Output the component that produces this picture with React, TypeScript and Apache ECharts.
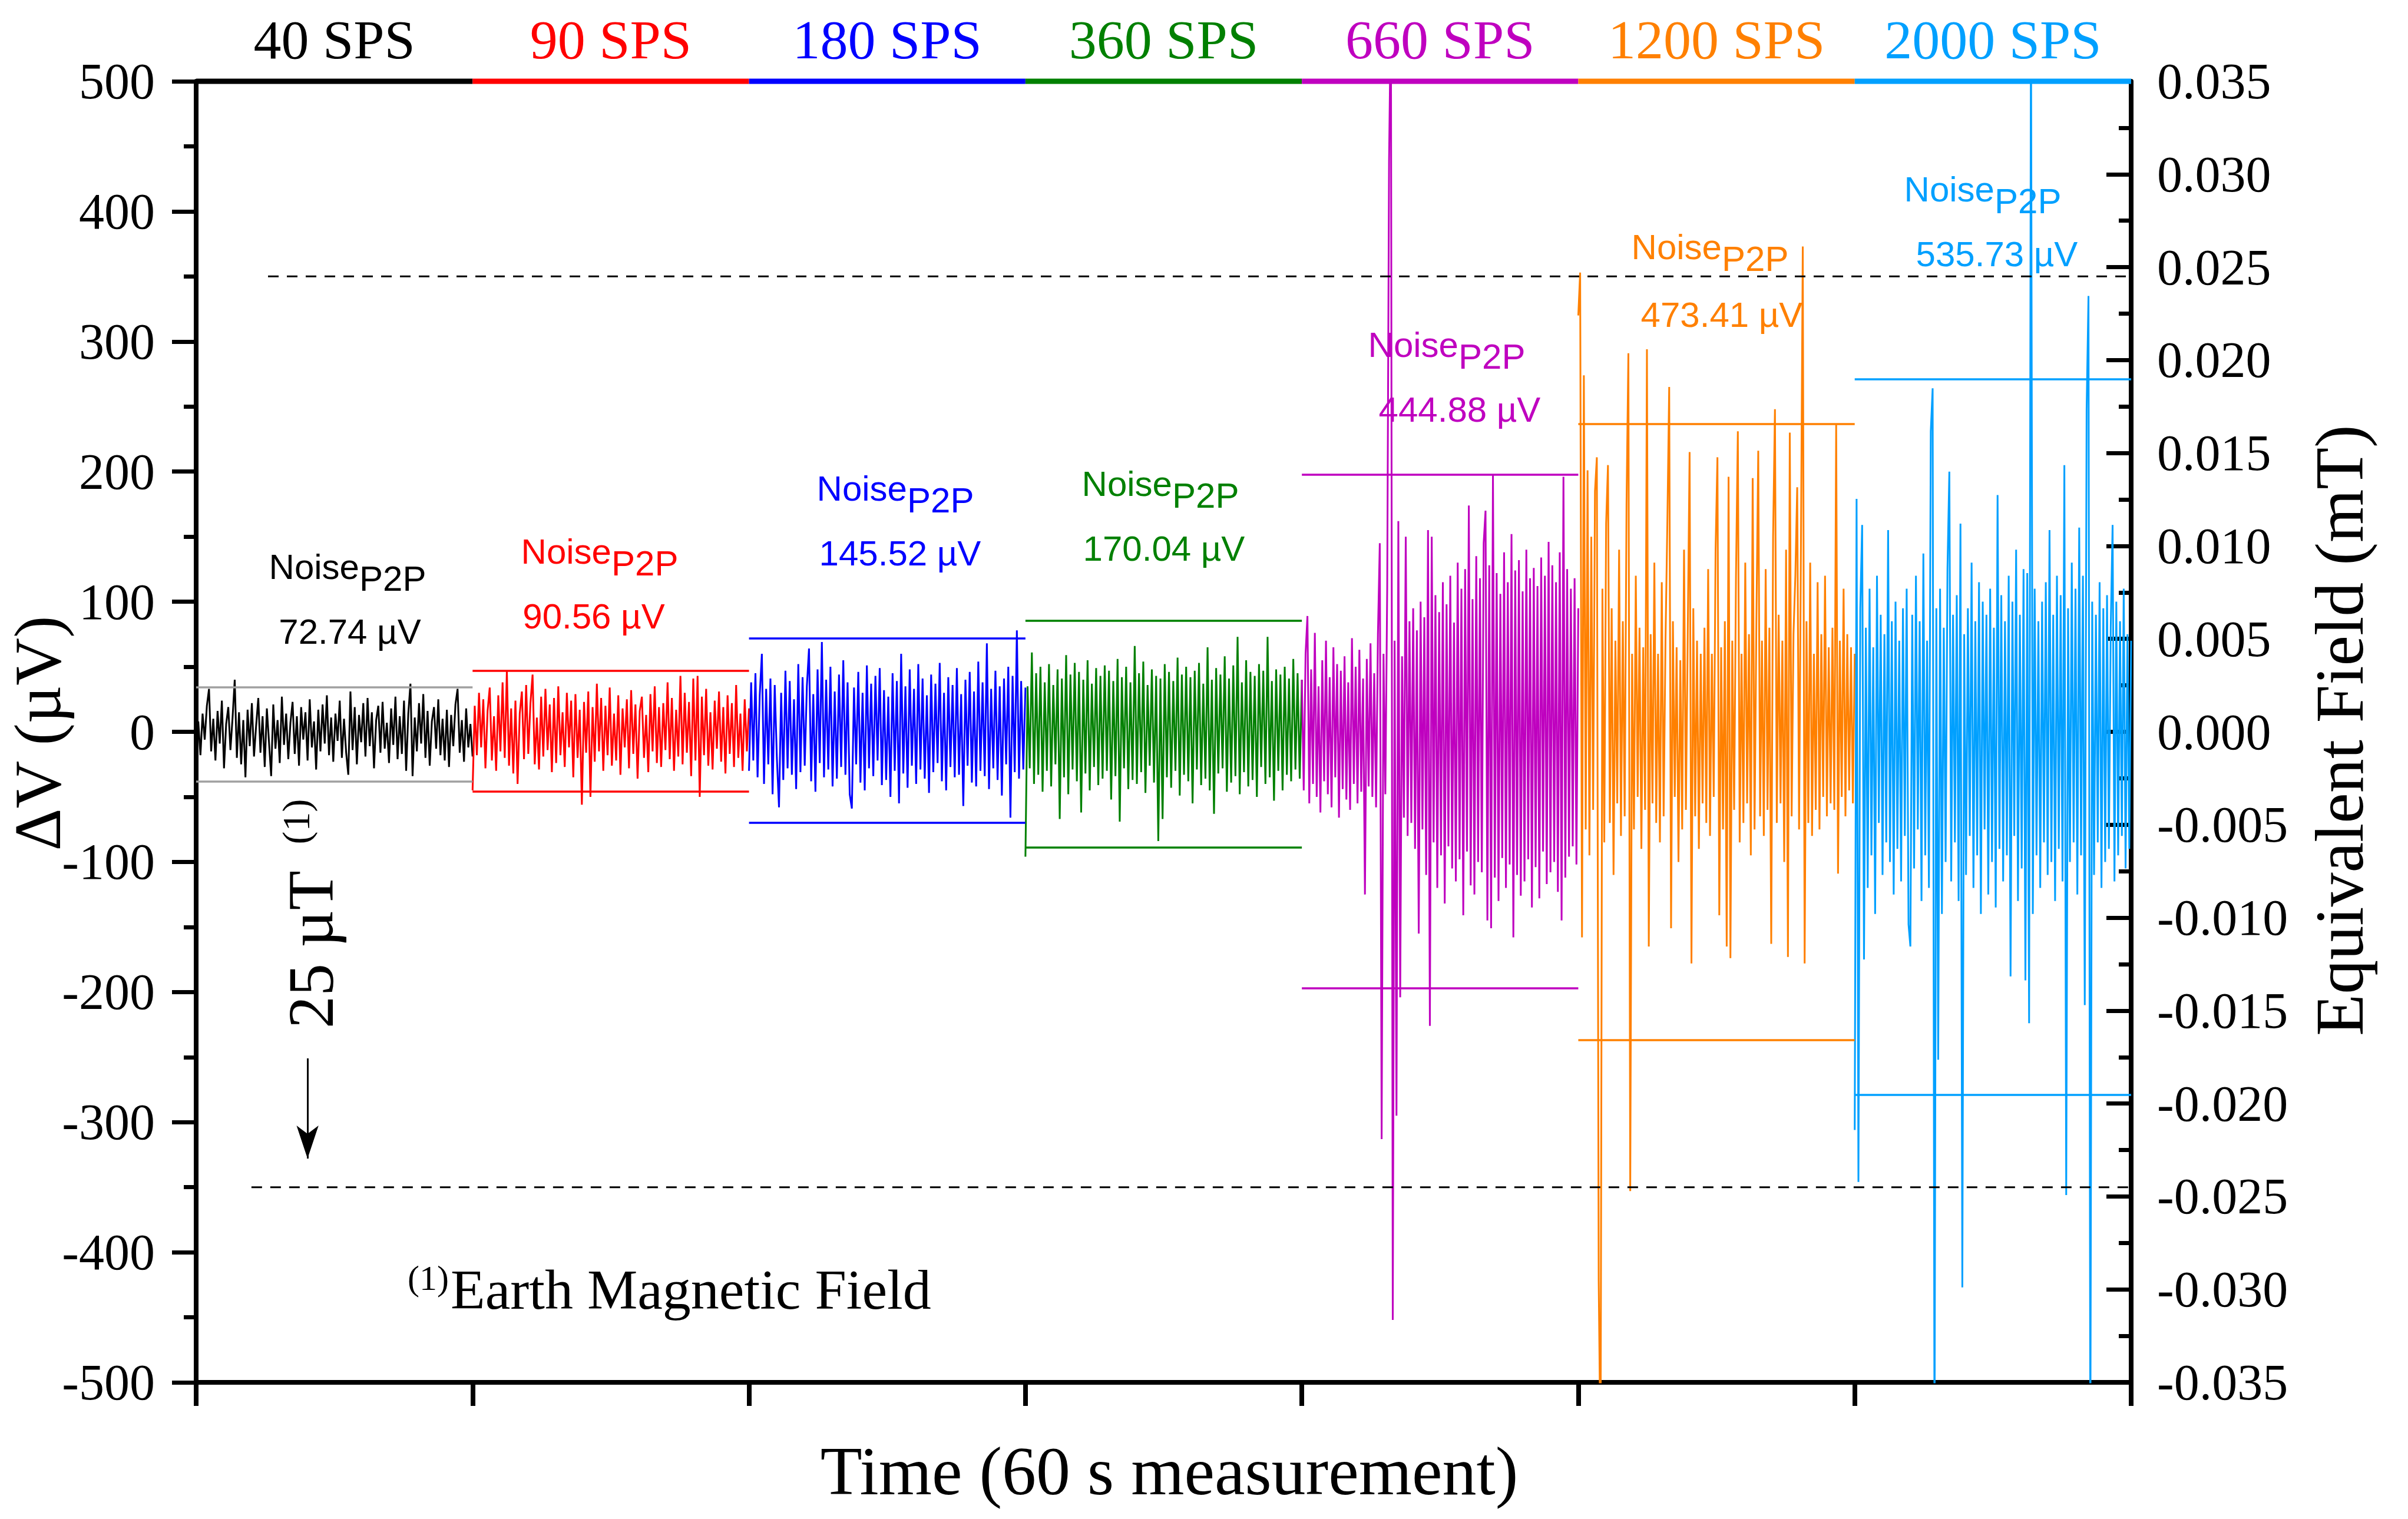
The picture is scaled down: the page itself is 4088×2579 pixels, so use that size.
import { useEffect, useRef } from "react";
import * as echarts from "echarts";

const SERIF = '"Liberation Serif", "Times New Roman", serif';
const SANS = '"Liberation Sans", Arial, sans-serif';

// one 60 s block per sampling rate
const RATES = ["40 SPS", "90 SPS", "180 SPS", "360 SPS", "660 SPS", "1200 SPS", "2000 SPS"];
const COLORS = ["#000000", "#ff0000", "#0000ff", "#008000", "#bf00bf", "#ff8000", "#00a0ff"];
const BAND_COLORS = ["#a0a0a0", "#ff0000", "#0000ff", "#008000", "#bf00bf", "#ff8000", "#00a0ff"];
const P2P_LABELS = ["72.74 µV", "90.56 µV", "145.52 µV", "170.04 µV", "444.88 µV", "473.41 µV", "535.73 µV"];

// peak-to-peak band per block (µV)
const BAND_HI = [34.5, 47, 72, 85.6, 197.7, 236.5, 271];
const BAND_LO = [-38, -46, -70, -88.7, -197, -237, -279];

// 25 µT earth field expressed in µV
const EARTH_UV = 350;
const DASH_TOP = [0.26, 7.03];
const DASH_BOTTOM = [0.2, 7.03];
const ARROW_X = 0.403;
const ARROW_FROM = -251;
const ARROW_TO = -328;

const NOISE_40 = [
  -12, 8, -18, 14, -6, 20, 33, -15, 10, -22, 16, -9, 24, -28, 6, 19, -14, 11, 40, -20,
  15, -25, 9, -35, 17, -11, 22, -19, 5, 26, -16, 12, -27, 18, -8, -34, 21, -13, 9, -24,
  27, -10, 14, -21, 7, 23, -17, 12, -26, 19, -6, 15, -22, 25, -12, 8, -29, 17, -15, 21,
  -9, 28, -18, 11, -23, 14, -7, 24, -20, 10, -16, -33, 31, -14, 19, -25, 13, -8, 22, -19,
  26, -11, 15, -28, 9, 20, -16, 23, -13, 7, -24, 18, -10, 27, -21, 12, -17, 24, -30, 14,
  37, -34, 11, -15, 22, -9, 29, -20, 16, -26, 8, 19, -13, 25, -18, 10, -22, 17, -27, 13,
  -11, 21, 33, -16, 9, -23, 18, -12, 6, -19,
];

const NOISE_90 = [
  -45, 20, -18, 30, -12, 25, -28, 16, 34, -22, 12, -30, 28, -15, 38, -20, 47, -26, 18, -32,
  24, -40, 14, 31, -21, 36, -17, 22, 44, -25, 11, -29, 27, -19, 33, -14, 21, -31, 26, -24,
  35, -18, 15, -27, 30, -12, 24, -35, 29, -20, 17, -56, 23, -16, 31, -50, 19, -23, 37, -15,
  26, -30, 20, -18, 34, -26, 14, -22, 28, -33, 18, -12, 25, -28, 32, -17, 21, -36, 16, 27,
  -20, 13, -31, 29, -15, 35, -24, 19, -27, 22, -14, 38, -21, 26, -30, 17, -19, 43, -25, 30,
  -16, 23, -34, 41, -22, 43, -50, 27, -18, 33, -26, 15, -29, 24, -13, 31, -23, 19, -32, 28,
  -17, 22, -27, 36, -20, 14, -30, 25, -15, 18,
];

const NOISE_180 = [
  -30, 38, -22, 45, -35, 28, 60, -40, 33, -25, 41, -48, 36, -20, -58, 30, -37, 47, -28, 39,
  -33, 25, -44, 52, -31, 42, -26, 35, 64, -38, 29, -46, 48, -24, 69, -35, 40, -29, 50, -42,
  31, -36, 44, -27, 55, -33, 38, -48, -59, 34, -25, 46, -39, 30, -45, 51, -28, 37, -34, 43,
  -22, 49, -41, 32, -37, 27, -50, 45, -30, 39, -55, 60, -32, 35, -43, 48, -26, 33, -40, 52,
  -29, 41, -36, 28, -47, 44, -31, 37, -24, 53, -38, 30, -45, 42, -27, 36, -35, 49, -33, 29,
  -57, 40, -26, 46, -39, 31, -42, 54, -30, 38, -34, 68, -44, 33, -28, 47, -37, 35, -49, 41,
  -25, 50, -66, 43, -31, 78, -36, 39, -29, 34,
];

const NOISE_360 = [
  -96, 35, -28, 61, -40, 45, -33, 50, -46, 38, -30, 52, -42, 36, -25, 48, -67, 41, -35, 59,
  -48, 44, -29, 53, -38, 46, -62, 40, -32, 55, -45, 37, -27, 49, -41, 43, -36, 51, -30, 47,
  -52, 39, -34, 56, -69, 42, -28, 50, -44, 38, -37, 66, -40, 45, -31, 54, -47, 36, -26, 48,
  -39, 43, -84, 41, -67, 52, -35, 46, -43, 39, -30, 57, -49, 44, -33, 50, -38, 42, -55, 47,
  -29, 53, -41, 37, -36, 65, -45, 40, -63, 49, -32, 44, -28, 58, -46, 41, -39, 51, -34, 73,
  -48, 38, -31, 55, -42, 46, -37, 43, -50, 52, -27, 47, -40, 73, -35, 39, -53, 48, -30, 44,
  -45, 50, -33, 41, -38, 56, -29, 45, -36, 40,
];

const NOISE_660 = [
  40, -45, 60, 89, -55, 48, -40, 76, -50, 35, -62, 55, -38, 70, -48, 42, -58, 65, -35, 52,
  -66, 47, -44, 58, -52, 38, -60, 72, -40, 50, -55, 63, -46, 41, -125, 56, -42, 68, -50, 45,
  -58, 75, 145, -313, 60, -48, 110, 439, 560, -452, 70, -295, 162, -204, 58, -66, 150, -80, 85, -70,
  95, -90, 78, -155, 100, -75, 88, -110, 155, -226, 150, -85, 105, -120, 92, -95, 115, -132, 98, -88,
  120, -105, 84, -115, 130, -98, 110, -141, 125, -92, 174, -118, 102, -125, 135, -100, 118, -108, 145, 170,
  -145, 128, -151, 198, -112, 122, -130, 106, -97, 138, -120, 115, -102, 152, -158, 124, -110, 132, -126, 108,
  -115, 140, -98, 118, -135, 126, -104, 112, -128, 134, -92, 120, -117, 146, -108, 128, -100, 115, -123, 138,
  -145, 196, -112, 125, -96, 110, -88, 118, -102, 95,
];

const NOISE_1200 = [
  320, 353, -158, 274, -75, 201, -95, 150, -60, 185, 211, -422, -560, 110, -85, 160, 205, -70, 95, -110,
  70, -55, 140, -80, 85, -65, 175, 291, -353, 60, -75, 120, -50, 80, -90, 65, -60, 294, -165, 75,
  -55, 130, -70, 60, -85, 115, -65, 70, 160, 265, -151, 85, -50, 65, -100, 55, -75, 140, -60, 75,
  215, -178, 95, -65, 70, -90, 60, -55, 80, -70, 125, -80, 60, -50, 140, 211, -141, 65, -75, 85,
  -165, 196, -174, 70, -60, 120, 231, -85, 60, -70, 130, -55, 75, -95, 195, -75, 85, 216, -65, 70,
  -80, 125, -60, 80, -163, 150, 248, -70, 90, -55, 70, -100, 140, -173, 230, -65, 75, 120, 188, -75,
  140, 373, -178, 85, -70, 130, -80, 60, -60, 115, -75, 75, -50, 120, -65, 65, -55, 80, -60, 236,
  -109, 70, -50, 110, -65, 75, -45, 65, -55, 60,
];

const NOISE_2000 = [
  -306, 179, -346, 95, 159, -175, 80, -120, 110, -95, 65, -140, 120, -70, 90, -110, 75, -85, 155, -100,
  85, -125, 100, -90, 70, -115, 95, -80, 110, -148, -165, 90, -105, 120, -75, 85, -130, 137, -95, 70,
  -120, 231, 264, -560, 95, -252, 110, -140, 80, -100, 125, 200, -115, 90, -85, 105, -130, 160, -427, 75,
  -110, 95, -80, 130, -120, 85, -95, 115, -140, 100, -75, 90, -125, 110, -100, 80, -135, 182, -90, 105,
  -115, 85, -95, 120, -188, 100, -80, 140, -130, 90, -105, 125, -191, 122, -224, 560, -140, 110, -95, 85,
  -120, 100, -85, 115, -110, 155, -100, 90, -130, 120, -90, 105, -115, 205, -356, 95, -100, 130, -85, 110,
  -125, 157, -95, 120, -210, 248, 335, -560, 100, -110, 90, -85, 115, -120, 95, -100, 105, -90, 80, 159,
  -115, 100, -95, 85, -80, 110, -105, 75, -90, 70,
];

const NOISE = [NOISE_40, NOISE_90, NOISE_180, NOISE_360, NOISE_660, NOISE_1200, NOISE_2000];

// annotation anchors in page pixels: [label centre x, label mid y, value centre x, value mid y]
const NOTE_POS = [
  [590, 962, 594, 1072],
  [1018, 936, 1008, 1046],
  [1520, 829, 1528, 939],
  [1970, 821, 1976, 931],
  [2456, 585, 2478, 695],
  [2903, 419, 2923, 534],
  [3366, 321, 3390, 431],
];

export default function App() {
  const ref = useRef<HTMLDivElement>(null);

  useEffect(() => {
    if (!ref.current) return;
    const chart = echarts.init(ref.current, null, { renderer: "svg" });

    const noiseSeries = NOISE.map((vals, k) => ({
      type: "line",
      xAxisIndex: 0,
      yAxisIndex: 0,
      data: vals.map((v, i) => [k + i / (vals.length - 1), v]),
      symbol: "none",
      showSymbol: false,
      silent: true,
      lineStyle: { color: COLORS[k], width: 3 },
      itemStyle: { color: COLORS[k] },
      z: 2,
      markLine: {
        silent: true,
        symbol: "none",
        label: { show: false },
        lineStyle: { color: BAND_COLORS[k], width: 3.5, type: "solid" },
        data: [
          [{ coord: [k, BAND_HI[k]] }, { coord: [k + 1, BAND_HI[k]] }],
          [{ coord: [k, BAND_LO[k]] }, { coord: [k + 1, BAND_LO[k]] }],
        ],
      },
    }));

    // coloured top frame, one piece per block
    const topSeries = COLORS.map((c, k) => ({
      type: "line",
      data: [
        [k, 500],
        [k + 1, 500],
      ],
      symbol: "none",
      clip: false,
      silent: true,
      lineStyle: { color: c, width: 9 },
      z: 5,
    }));

    const dashStyle = { color: "#000", width: 3, type: [18, 14] };

    chart.setOption({
      animation: false,
      grid: { left: 333, right: 470, top: 138, bottom: 232 },
      xAxis: {
        type: "value",
        min: 0,
        max: 7,
        interval: 1,
        axisLine: { onZero: false, lineStyle: { color: "#000", width: 8 } },
        axisTick: { show: true, length: 40, lineStyle: { color: "#000", width: 8 } },
        axisLabel: { show: false },
        splitLine: { show: false },
      },
      yAxis: [
        {
          type: "value",
          min: -500,
          max: 500,
          interval: 100,
          position: "left",
          axisLine: { show: true, onZero: false, lineStyle: { color: "#000", width: 8 } },
          axisTick: { show: true, length: 41, lineStyle: { color: "#000", width: 7 } },
          minorTick: { show: true, splitNumber: 2, length: 21, lineStyle: { color: "#000", width: 7 } },
          splitLine: { show: false },
          axisLabel: { margin: 70, fontSize: 86, fontFamily: SERIF, color: "#000" },
        },
        {
          type: "value",
          min: -0.035,
          max: 0.035,
          interval: 0.005,
          position: "right",
          axisLine: { show: true, onZero: false, lineStyle: { color: "#000", width: 8 } },
          axisTick: { show: true, inside: true, length: 42, lineStyle: { color: "#000", width: 7 } },
          minorTick: { show: true, splitNumber: 2, length: 21, lineStyle: { color: "#000", width: 7 } },
          splitLine: { show: false },
          axisLabel: {
            margin: 44,
            fontSize: 86,
            fontFamily: SERIF,
            color: "#000",
            formatter: (v: number) => (Math.abs(v) < 1e-9 ? "0.000" : v.toFixed(3)),
          },
        },
      ],
      series: [
        ...noiseSeries,
        {
          type: "line",
          data: [
            [DASH_TOP[0], EARTH_UV],
            [DASH_TOP[1], EARTH_UV],
          ],
          symbol: "none",
          clip: false,
          silent: true,
          lineStyle: dashStyle,
          z: 4,
          markLine: {
            silent: true,
            symbol: "none",
            label: { show: false },
            lineStyle: { color: "#000", width: 3, type: "solid" },
            data: [
              [
                { coord: [ARROW_X, ARROW_FROM], symbol: "none" },
                { coord: [ARROW_X, ARROW_TO], symbol: "arrow", symbolSize: [28, 56] },
              ],
            ],
          },
        },
        {
          type: "line",
          data: [
            [DASH_BOTTOM[0], -EARTH_UV],
            [DASH_BOTTOM[1], -EARTH_UV],
          ],
          symbol: "none",
          clip: false,
          silent: true,
          lineStyle: dashStyle,
          z: 4,
        },
        ...topSeries,
      ],
    });

    const graphics: any[] = [];
    RATES.forEach((r, k) => {
      const p = chart.convertToPixel({ gridIndex: 0 }, [k + 0.5, 500]) as number[];
      graphics.push({
        type: "text",
        x: p[0],
        y: 67,
        z: 100,
        style: { text: r, fill: COLORS[k], fontSize: 94, fontFamily: SERIF, align: "center", verticalAlign: "middle" },
      });
    });
    NOTE_POS.forEach(([cx, cy, vx, vy], k) => {
      graphics.push(
        {
          type: "text",
          x: cx + 20,
          y: cy,
          z: 100,
          style: { text: "Noise", fill: COLORS[k], fontSize: 60, fontFamily: SANS, align: "right", verticalAlign: "middle" },
        },
        {
          type: "text",
          x: cx + 20,
          y: cy + 20,
          z: 100,
          style: { text: "P2P", fill: COLORS[k], fontSize: 60, fontFamily: SANS, align: "left", verticalAlign: "middle" },
        },
        {
          type: "text",
          x: vx,
          y: vy,
          z: 100,
          style: { text: P2P_LABELS[k], fill: COLORS[k], fontSize: 60, fontFamily: SANS, align: "center", verticalAlign: "middle" },
        },
      );
    });
    graphics.push(
      {
        type: "text",
        x: 64,
        y: 1245,
        rotation: Math.PI / 2,
        z: 100,
        style: { text: "ΔV (µV)", fill: "#000", fontSize: 112, fontFamily: SERIF, align: "center", verticalAlign: "middle" },
      },
      {
        type: "text",
        x: 3972,
        y: 1240,
        rotation: Math.PI / 2,
        z: 100,
        style: { text: "Equivalent Field (mT)", fill: "#000", fontSize: 116, fontFamily: SERIF, align: "center", verticalAlign: "middle" },
      },
      {
        type: "text",
        x: 1985,
        y: 2498,
        z: 100,
        style: { text: "Time (60 s measurement)", fill: "#000", fontSize: 116, fontFamily: SERIF, align: "center", verticalAlign: "middle" },
      },
      {
        type: "text",
        x: 528,
        y: 1612,
        rotation: Math.PI / 2,
        z: 100,
        style: { text: "25 µT", fill: "#000", fontSize: 110, fontFamily: SERIF, align: "center", verticalAlign: "middle" },
      },
      {
        type: "text",
        x: 502,
        y: 1395,
        rotation: Math.PI / 2,
        z: 100,
        style: { text: "(1)", fill: "#000", fontSize: 66, fontFamily: SERIF, align: "center", verticalAlign: "middle" },
      },
      {
        type: "text",
        x: 692,
        y: 2170,
        z: 100,
        style: { text: "(1)", fill: "#000", fontSize: 60, fontFamily: SERIF, align: "left", verticalAlign: "middle" },
      },
      {
        type: "text",
        x: 765,
        y: 2189,
        z: 100,
        style: { text: "Earth Magnetic Field", fill: "#000", fontSize: 96, fontFamily: SERIF, align: "left", verticalAlign: "middle" },
      },
    );
    chart.setOption({ graphic: graphics });

    return () => chart.dispose();
  }, []);

  return <div ref={ref} style={{ position: "absolute", left: 0, top: 0, width: 4088, height: 2579 }} />;
}
